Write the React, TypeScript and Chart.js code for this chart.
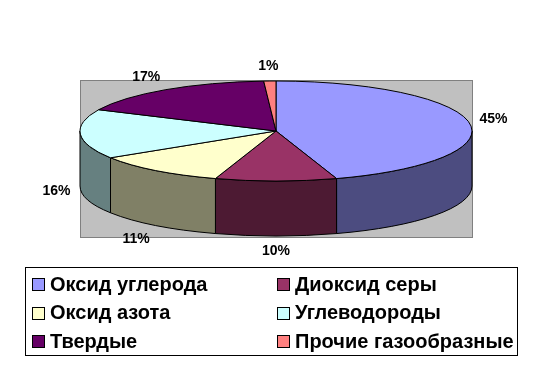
import React, { useEffect, useRef } from 'react';
import { Chart, registerables } from 'chart.js';

Chart.register(...registerables);

const categories = ['Оксид углерода', 'Диоксид серы', 'Оксид азота', 'Углеводороды', 'Твердые', 'Прочие газообразные'];
const shares = [45, 10, 11, 16, 17, 1];
const percentLabels = ['45%', '10%', '11%', '16%', '17%', '1%'];
const topColors = ['#9999FF', '#993366', '#FFFFCC', '#CCFFFF', '#660066', '#FF8080'];
const sideColors = ['#4C4C80', '#4D1A33', '#808066', '#668080', '#330033', '#804040'];

const FONT = '"Liberation Sans", Arial, sans-serif';
const TILT = 50 / 196;
const DEPTH = 55;

const pie3d = {
  id: 'pie3d',
  beforeDatasetsDraw(chart: any) {
    const ctx = chart.ctx as CanvasRenderingContext2D;
    const area = chart.chartArea;
    const arcs = chart.getDatasetMeta(0).data as any[];
    if (!arcs.length) return false;
    const cx = arcs[0].x;
    const rx = arcs[0].outerRadius;
    const ry = rx * TILT;
    const cy = area.top + ry + 1;

    ctx.save();
    ctx.fillStyle = '#C0C0C0';
    ctx.fillRect(area.left, area.top, area.right - area.left, area.bottom - area.top);
    ctx.strokeStyle = '#808080';
    ctx.lineWidth = 1;
    ctx.strokeRect(Math.round(area.left) + 0.5, Math.round(area.top) + 0.5, Math.round(area.right - area.left), Math.round(area.bottom - area.top));

    ctx.strokeStyle = '#000';
    ctx.lineWidth = 1;
    ctx.lineJoin = 'round';
    arcs.forEach((arc, i) => {
      const a1 = Math.max(arc.startAngle, 0);
      const a2 = Math.min(arc.endAngle, Math.PI);
      if (a1 >= a2) return;
      ctx.beginPath();
      ctx.ellipse(cx, cy, rx, ry, 0, a1, a2, false);
      ctx.lineTo(cx + rx * Math.cos(a2), cy + DEPTH + ry * Math.sin(a2));
      ctx.ellipse(cx, cy + DEPTH, rx, ry, 0, a2, a1, true);
      ctx.closePath();
      ctx.fillStyle = sideColors[i];
      ctx.fill();
      ctx.stroke();
    });
    arcs.forEach((arc, i) => {
      ctx.beginPath();
      ctx.moveTo(cx, cy);
      ctx.ellipse(cx, cy, rx, ry, 0, arc.startAngle, arc.endAngle, false);
      ctx.closePath();
      ctx.fillStyle = topColors[i];
      ctx.fill();
      ctx.stroke();
    });
    ctx.font = 'bold 14px ' + FONT;
    ctx.fillStyle = '#000';
    ctx.textAlign = 'center';
    ctx.textBaseline = 'middle';
    const off = 10;
    arcs.forEach((arc, i) => {
      const m = (arc.startAngle + arc.endAngle) / 2;
      const c = Math.cos(m);
      const s = Math.sin(m);
      const text = percentLabels[i];
      const w = ctx.measureText(text).width;
      const h = 10;
      const kx = Math.max(-1, Math.min(1, c * 4));
      const ky = Math.max(-1, Math.min(1, s * 4));
      const x = cx + (rx + off) * c + kx * w / 2;
      const y = cy + (ry + off) * s + ky * h / 2 + (s > 0 ? DEPTH : 0);
      ctx.fillText(text, x, y + 0.5);
    });
    ctx.restore();
    return false;
  },
  afterDraw(chart: any) {
    const ctx = chart.ctx as CanvasRenderingContext2D;
    const labels = chart.data.labels as string[];
    const colors = chart.data.datasets[0].backgroundColor as string[];
    ctx.save();
    const bx = 25, by = 267, bw = 492, bh = 88;
    ctx.fillStyle = '#fff';
    ctx.fillRect(bx, by, bw, bh);
    ctx.strokeStyle = '#000';
    ctx.lineWidth = 1;
    ctx.strokeRect(bx + 0.5, by + 0.5, bw, bh);
    ctx.font = 'bold 20px ' + FONT;
    ctx.textAlign = 'left';
    ctx.textBaseline = 'middle';
    const colX = [32, 277];
    const rowY = [284, 312.5, 341];
    labels.forEach((lab, i) => {
      const x = colX[i % 2];
      const y = rowY[Math.floor(i / 2)];
      ctx.fillStyle = colors[i];
      ctx.fillRect(x, Math.round(y - 6), 12, 12);
      ctx.strokeStyle = '#000';
      ctx.strokeRect(x + 0.5, Math.round(y - 6) + 0.5, 12, 12);
      ctx.fillStyle = '#000';
      ctx.fillText(lab, x + 18, y + 1);
    });
    ctx.restore();
  },
};

export default function App() {
  const ref = useRef<HTMLCanvasElement>(null);
  useEffect(() => {
    document.body.style.margin = '0';
    const chart = new Chart(ref.current as HTMLCanvasElement, {
      type: 'pie',
      data: {
        labels: categories,
        datasets: [
          {
            data: shares,
            backgroundColor: topColors,
            borderColor: '#000',
            borderWidth: 1,
            radius: 196,
          } as any,
        ],
      },
      options: {
        responsive: false,
        animation: false,
        layout: { padding: { left: 80, right: 71, top: 80, bottom: 130 } },
        plugins: { legend: { display: false }, tooltip: { enabled: false } },
      },
      plugins: [pie3d],
    });
    return () => chart.destroy();
  }, []);
  return (
    <div style={{ position: 'fixed', left: 0, top: 0, background: '#fff' }}>
      <canvas ref={ref} width={543} height={367} style={{ display: 'block' }} />
    </div>
  );
}
